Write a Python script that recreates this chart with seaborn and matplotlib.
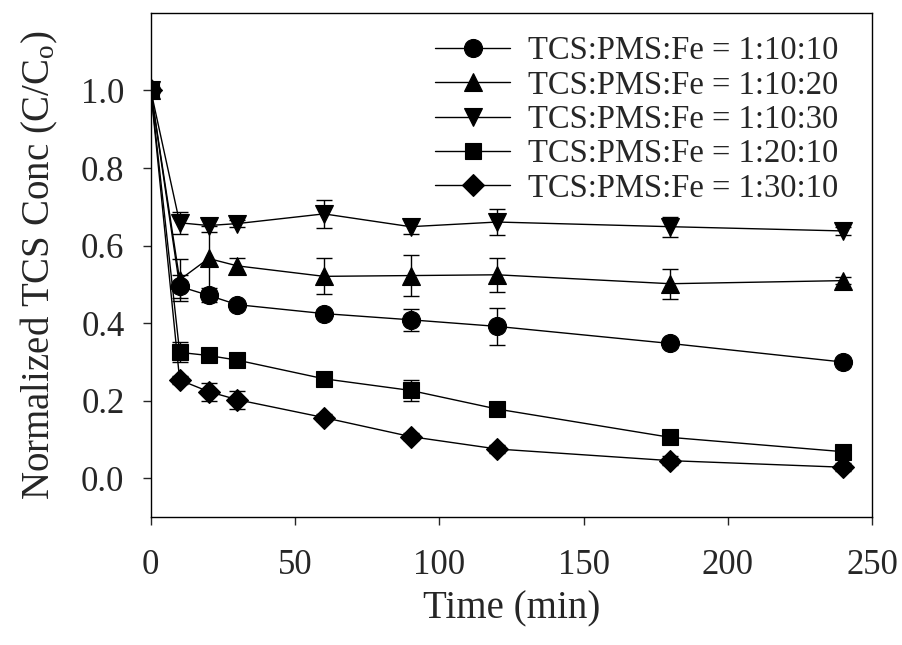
import pandas as pd
import seaborn as sns
import matplotlib.pyplot as plt
import numpy as np

# time (min), normalized TCS concentration C/Co and error bars
time = [0, 10, 20, 30, 60, 90, 120, 180, 240]
series = ["TCS:PMS:Fe = 1:10:10", "TCS:PMS:Fe = 1:10:20", "TCS:PMS:Fe = 1:10:30",
          "TCS:PMS:Fe = 1:20:10", "TCS:PMS:Fe = 1:30:10"]

c_10_10 = [1.0, 0.495, 0.472, 0.448, 0.425, 0.409, 0.392, 0.348, 0.300]
c_10_20 = [1.0, 0.512, 0.567, 0.548, 0.521, 0.523, 0.525, 0.502, 0.510]
c_10_30 = [1.0, 0.659, 0.652, 0.657, 0.682, 0.649, 0.661, 0.649, 0.638]
c_20_10 = [1.0, 0.325, 0.317, 0.305, 0.257, 0.227, 0.179, 0.106, 0.069]
c_30_10 = [1.0, 0.254, 0.224, 0.203, 0.157, 0.108, 0.076, 0.046, 0.029]

e_10_10 = [0, 0.030, 0.018, 0.010, 0.010, 0.028, 0.047, 0.010, 0.010]
e_10_20 = [0, 0.054, 0.085, 0.019, 0.046, 0.053, 0.044, 0.039, 0.010]
e_10_30 = [0, 0.028, 0.016, 0.008, 0.036, 0.020, 0.033, 0.026, 0.010]
e_20_10 = [0, 0.026, 0.010, 0.010, 0.010, 0.028, 0.010, 0.010, 0.010]
e_30_10 = [0, 0.010, 0.023, 0.023, 0.010, 0.010, 0.010, 0.012, 0.010]

values = [c_10_10, c_10_20, c_10_30, c_20_10, c_30_10]
errors = [e_10_10, e_10_20, e_10_30, e_20_10, e_30_10]
markers = ["o", "^", "v", "s", "D"]
msizes = [13, 13, 13, 12, 11]

df = pd.concat([pd.DataFrame({"time": time, "conc": v, "err": e, "series": s})
                for s, v, e in zip(series, values, errors)], ignore_index=True)

sns.set_style("ticks")
plt.rcParams["font.family"] = ["Liberation Serif", "DejaVu Serif"]
plt.rcParams["mathtext.default"] = "regular"

fig, ax = plt.subplots(figsize=(9.03, 6.45), dpi=100)
fig.subplots_adjust(left=0.167, right=0.966, top=0.980, bottom=0.198)

for s, m, ms in zip(series, markers, msizes):
    d = df[df["series"] == s]
    sns.lineplot(data=d, x="time", y="conc", ax=ax, color="black", marker=m,
                 markersize=ms, markeredgecolor="black", markeredgewidth=0.8,
                 linewidth=1.0, errorbar=None, legend=False, zorder=3)
lines = ax.get_lines()[:5]

for s in series:
    d = df[df["series"] == s]
    ax.errorbar(d["time"], d["conc"], yerr=d["err"], fmt="none", ecolor="black",
                elinewidth=1.0, capsize=5.5, capthick=1.0, zorder=2)

ax.set_xlim(0, 250)
ax.set_ylim(-0.1, 1.2)
ax.set_xticks(np.arange(0, 251, 50))
ax.set_yticks(np.arange(0, 1.01, 0.2))
ax.set_yticklabels([f"{t:.1f}" for t in np.arange(0, 1.01, 0.2)])
ax.tick_params(axis="both", direction="out", length=6, width=1.0, labelsize=25)
ax.tick_params(axis="x", pad=17)
ax.tick_params(axis="y", pad=13)
for sp in ax.spines.values():
    sp.set_visible(True)
    sp.set_linewidth(1.0)
    sp.set_color("black")

ax.set_xlabel("Time (min)", fontsize=28, labelpad=6)
ax.set_ylabel("Normalized TCS Conc (C/C$_{o}$)", fontsize=28, labelpad=15)

ax.legend(lines, series, loc="upper left", bbox_to_anchor=(0.394, 0.955),
          frameon=False, fontsize=23.5, borderpad=0, handlelength=2.3,
          handletextpad=0.56, labelspacing=0.12, borderaxespad=0)

fig.savefig("out.png", dpi=100)
